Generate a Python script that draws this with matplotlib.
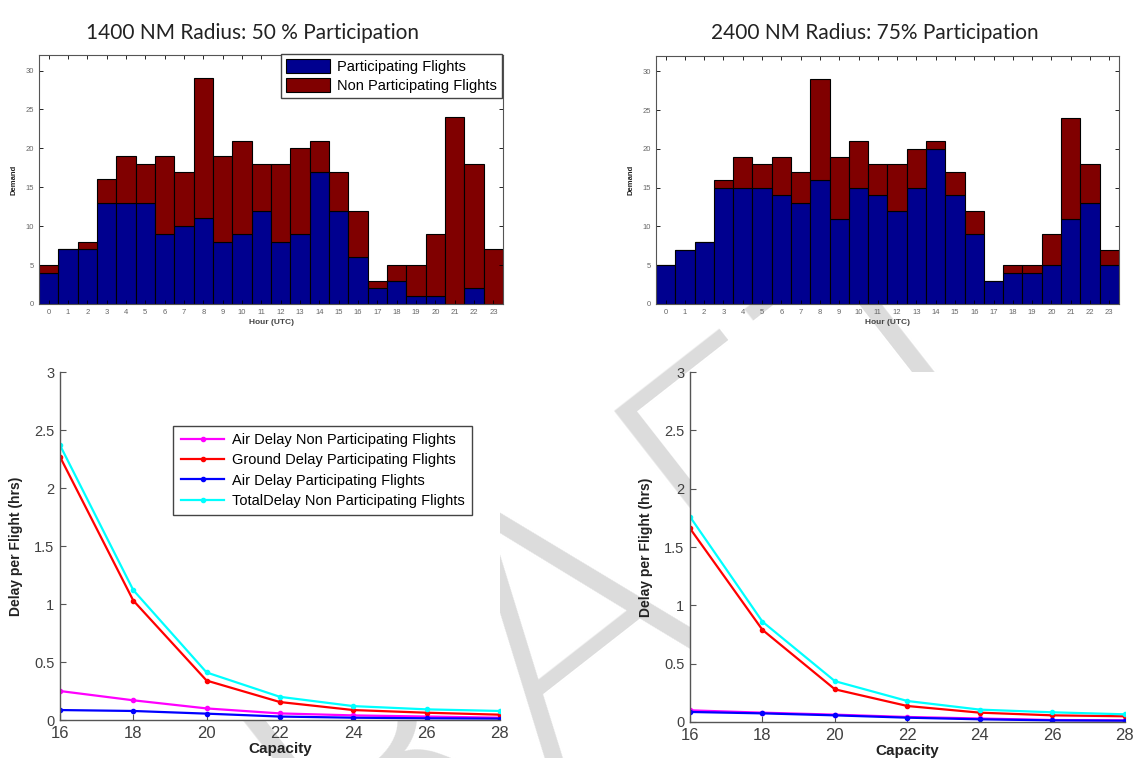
import matplotlib
matplotlib.use("Agg")
import matplotlib.pyplot as plt

plt.rcParams['font.family'] = ['Liberation Sans', 'DejaVu Sans']

# demand per hour
hours = list(range(24))
total_demand = [5, 7, 8, 16, 19, 18, 19, 17, 29, 19, 21, 18, 18, 20, 21, 17, 12, 3, 5, 5, 9, 24, 18, 7]
part_1400 = [4, 7, 7, 13, 13, 13, 9, 10, 11, 8, 9, 12, 8, 9, 17, 12, 6, 2, 3, 1, 1, 0, 2, 0]
part_2400 = [5, 7, 8, 15, 15, 15, 14, 13, 16, 11, 15, 14, 12, 15, 20, 14, 9, 3, 4, 4, 5, 11, 13, 5]

# delay per flight vs capacity
capacity = [16, 18, 20, 22, 24, 26, 28]
air_np_1400 = [0.25, 0.17, 0.10, 0.057, 0.04, 0.03, 0.02]
ground_p_1400 = [2.27, 1.03, 0.34, 0.155, 0.086, 0.063, 0.046]
air_p_1400 = [0.086, 0.078, 0.055, 0.03, 0.02, 0.015, 0.012]
total_np_1400 = [2.37, 1.12, 0.41, 0.20, 0.12, 0.092, 0.078]

air_np_2400 = [0.10, 0.08, 0.063, 0.043, 0.03, 0.017, 0.014]
ground_p_2400 = [1.66, 0.79, 0.28, 0.137, 0.08, 0.057, 0.049]
air_p_2400 = [0.086, 0.074, 0.057, 0.037, 0.023, 0.014, 0.011]
total_np_2400 = [1.76, 0.86, 0.35, 0.18, 0.106, 0.083, 0.066]

titles = ['1400 NM Radius: 50 % Participation', '2400 NM Radius: 75% Participation']
line_labels = ['Air Delay Non Participating Flights', 'Ground Delay Participating Flights',
               'Air Delay Participating Flights', 'TotalDelay Non Participating Flights']
line_colors = ['#ff00ff', '#ff0000', '#0000ff', '#00ffff']

blue = '#00008f'
dred = '#800000'
gray = '#404040'

fig = plt.figure(figsize=(11.44, 7.58), dpi=100)
fig.patch.set_facecolor('white')

# watermark behind the panels
fig.text(0.47, 0.15, 'DRAFT', fontsize=260, rotation=38, color='#dcdcdc',
         ha='center', va='center', zorder=-1, family='DejaVu Sans', fontweight='light')


def bar_panel(pos, part):
    ax = fig.add_axes(pos)
    nonpart = [t - p for t, p in zip(total_demand, part)]
    ax.bar(hours, part, width=1, color=blue, edgecolor='black', linewidth=0.8,
           label='Participating Flights')
    ax.bar(hours, nonpart, bottom=part, width=1, color=dred, edgecolor='black',
           linewidth=0.8, label='Non Participating Flights')
    ax.set_xlim(-0.5, 23.5)
    ax.set_ylim(0, 32)
    ax.set_xticks(hours)
    ax.set_yticks(range(0, 31, 5))
    ax.tick_params(direction='in', top=True, right=True, labelsize=5.5,
                   labelcolor='#666666', length=3, width=0.6)
    ax.set_xlabel('Hour (UTC)', fontsize=6, fontweight='bold', color='#444444', labelpad=2)
    ax.set_ylabel('Demand', fontsize=5.5, fontweight='bold', color='#222222', labelpad=6)
    for s in ax.spines.values():
        s.set_color('#555555')
        s.set_linewidth(0.8)
    return ax


def line_panel(pos, series):
    ax = fig.add_axes(pos)
    for vals, c, lab in zip(series, line_colors, line_labels):
        ax.plot(capacity, vals, '.-', color=c, lw=1.6, ms=6, label=lab)
    ax.set_xlim(16, 28)
    ax.set_ylim(0, 3)
    ax.set_xticks(capacity)
    ax.set_yticks([0, 0.5, 1, 1.5, 2, 2.5, 3])
    ax.set_yticklabels(['0', '0.5', '1', '1.5', '2', '2.5', '3'])
    ax.spines['top'].set_visible(False)
    ax.spines['right'].set_visible(False)
    for s in ('left', 'bottom'):
        ax.spines[s].set_color('#555555')
        ax.spines[s].set_linewidth(1.0)
    ax.tick_params(direction='in', length=4, width=0.8, color='#555555', labelcolor=gray)
    ax.tick_params(axis='x', labelsize=12, pad=4)
    ax.tick_params(axis='y', labelsize=10.5, pad=4)
    ax.set_xlabel('Capacity', fontsize=11, fontweight='bold', color='#222222', labelpad=1)
    ax.set_ylabel('Delay per Flight (hrs)', fontsize=10, fontweight='bold',
                  color='#222222', labelpad=8)
    return ax


ax1 = bar_panel([0.0341, 0.599, 0.4056, 0.3285], part_1400)
ax1.legend(loc='upper right', bbox_to_anchor=(0.998, 1.004), fontsize=10.5,
           handlelength=3.0, handleheight=1.1, borderaxespad=0, fancybox=False,
           edgecolor='#444444', framealpha=1, labelspacing=0.3, borderpad=0.35,
           handletextpad=0.5)
ax2 = bar_panel([0.5734, 0.599, 0.4047, 0.3272], part_2400)

ax3 = line_panel([0.0524, 0.0501, 0.3846, 0.4591],
                 [air_np_1400, ground_p_1400, air_p_1400, total_np_1400])
ax3.legend(loc='upper right', bbox_to_anchor=(0.936, 0.845), fontsize=10.5,
           handlelength=3.0, borderaxespad=0, fancybox=False, edgecolor='#444444',
           framealpha=1, labelspacing=0.42, borderpad=0.5, handletextpad=0.5)
ax4 = line_panel([0.6031, 0.0475, 0.3802, 0.4617],
                 [air_np_2400, ground_p_2400, air_p_2400, total_np_2400])

fig.text(252 / 1144, 1 - 33 / 758, titles[0], fontsize=15, family=['Lato', 'DejaVu Sans'],
         ha='center', va='center', color='#222222')
fig.text(875 / 1144, 1 - 33 / 758, titles[1], fontsize=15, family=['Lato', 'DejaVu Sans'],
         ha='center', va='center', color='#222222')

fig.savefig('out.png', dpi=100, facecolor='white')
